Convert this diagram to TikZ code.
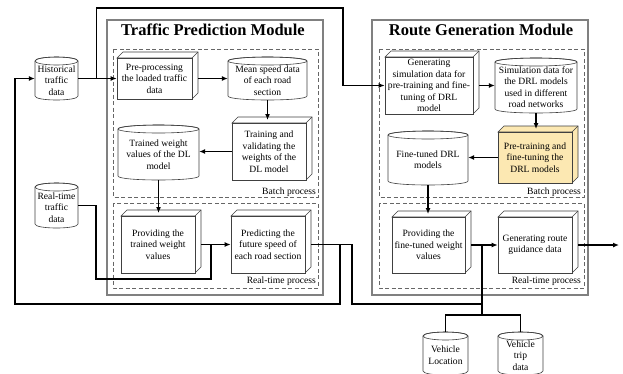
\documentclass[tikz,border=0pt]{standalone}
\usepackage{fontspec}
\setmainfont{Liberation Serif}
\usetikzlibrary{arrows.meta,calc}
\definecolor{ptyellow}{RGB}{252,232,178}
\tikzset{
 conn/.style={line width=1.4pt, draw=black},
 arr/.style={conn, -{Latex[length=6pt,width=5pt]}},
 boxline/.style={draw=black!75, line width=0.6pt},
 boxnode/.style={draw=black!75, line width=0.6pt, inner sep=0pt, align=center, font=\fontsize{9.6}{11.5}\selectfont},
 cylline/.style={draw=black!75, line width=0.6pt},
 cylnode/.style={inner sep=0pt, align=center, font=\fontsize{9.6}{11.5}\selectfont},
 modframe/.style={draw=black!50, line width=1.4pt},
 procframe/.style={draw=black!60, line width=0.8pt, dash pattern=on 4pt off 2.5pt},
 titletext/.style={font=\fontsize{16.5}{18}\selectfont\bfseries, inner sep=0pt},
 plabel/.style={font=\fontsize{9.6}{11.5}\selectfont, inner sep=0pt, anchor=base east},
}
\newcommand{\threedbox}[7][white]{%
  \pgfmathsetmacro{\bxX}{(#3+#5)/2}%
  \pgfmathsetmacro{\bxY}{(#4+#6)/2}%
  \pgfmathsetmacro{\bxW}{#5-#3}%
  \pgfmathsetmacro{\bxH}{#6-#4}%
  \filldraw[boxline, fill=#1] (#3,#4) -- (#3+6,#4-6) -- (#5+6,#4-6) -- (#5+6,#6-6) -- (#5,#6) -- (#5,#4) -- cycle;
  \draw[boxline] (#5,#4) -- (#5+6,#4-6);
  \node[boxnode, fill=#1, minimum width=\bxW pt, minimum height=\bxH pt] (#2) at (\bxX,\bxY) {#7};
  \coordinate (#2-r) at (#5+6,\bxY);
  \coordinate (#2-t) at (\bxX,#4-3);
}
\newcommand{\drawcyl}[6]{%
  \pgfmathsetmacro{\cylX}{(#2+#4)/2}%
  \pgfmathsetmacro{\cylY}{(#3+#5)/2}%
  \pgfmathsetmacro{\cylRX}{(#4-#2)/2}%
  \pgfmathsetmacro{\cylW}{#4-#2}%
  \pgfmathsetmacro{\cylH}{#5-#3}%
  \filldraw[cylline, fill=white] (#2,#3+4) -- (#2,#5-4) .. controls (#2,#5+1.33) and (#4,#5+1.33) .. (#4,#5-4) -- (#4,#3+4) .. controls (#4,#3-1.33) and (#2,#3-1.33) .. (#2,#3+4);
  \draw[cylline] (\cylX,#3+4) ellipse [x radius=\cylRX pt, y radius=4pt];
  \node[inner sep=0pt, minimum width=\cylW pt, minimum height=\cylH pt] (#1) at (\cylX,\cylY) {};
  \node[cylnode] (#1-txt) at (\cylX,\cylY+1.8) {#6};
}
\begin{document}
\begin{tikzpicture}[x=1pt,y=-1pt]
\useasboundingbox (0,0) rectangle (623,373);
\clip (0,0) rectangle (623,373);
% module frames
\draw[modframe] (107,20) rectangle (323,295);
\draw[modframe] (372,20) rectangle (588,295);
\node[titletext] (t1) at (213,30) {Traffic Prediction Module};
\node[titletext] (t2) at (481,30) {Route Generation Module};
% process frames
\draw[procframe] (113,49) rectangle (318,197);
\draw[procframe] (113,203) rectangle (318,288);
\draw[procframe] (379,49) rectangle (584,197);
\draw[procframe] (379,203) rectangle (584,288);
\node[plabel] (lb1) at (316,194.5) {Batch process};
\node[plabel] (lb2) at (316,283.5) {Real-time process};
\node[plabel] (lb3) at (581,194.5) {Batch process};
\node[plabel] (lb4) at (581,283.5) {Real-time process};
% inputs
\drawcyl{hist}{35}{57}{78}{100}{Historical\\traffic\\data}
\drawcyl{rt}{35}{183}{78}{228}{Real-time\\traffic\\data}
% traffic prediction module
\threedbox{pre}{117}{58}{192}{99}{Pre-processing\\the loaded traffic\\data}
\drawcyl{mean}{228}{57}{307}{100}{Mean speed data\\of each road\\section}
\threedbox{train}{232}{123}{306}{180}{Training and\\validating the\\weights of the\\DL model}
\drawcyl{tw}{118}{125}{199}{180}{Trained weight\\values of the DL\\model}
\threedbox{prov1}{121}{216}{195}{273}{Providing the\\trained weight\\values}
\threedbox{pred}{231}{216}{305}{273}{Predicting the\\future speed of\\each road section}
% route generation module
\threedbox{gen}{385}{57}{473}{114}{Generating\\simulation data for\\pre-training and fine-\\tuning of DRL\\model}
\drawcyl{sim}{495}{58}{577}{113}{Simulation data for\\the DRL models\\used in different\\road networks}
\threedbox[ptyellow]{pt}{498}{132}{572}{183}{Pre-training and\\fine-tuning the\\DRL models}
\drawcyl{ft}{388}{131}{468}{185}{Fine-tuned DRL\\models}
\threedbox{prov2}{392}{217}{465}{273}{Providing the\\fine-tuned weight\\values}
\threedbox{gen2}{498}{217}{572}{273}{Generating route\\guidance data}
% vehicle data
\drawcyl{vl}{423}{332}{468}{375}{Vehicle\\Location}
\drawcyl{vt}{498}{332}{543}{375}{Vehicle\\trip\\data}
% helper coordinates
\coordinate (jA) at ($(hist.east)+(18,0)$);
\coordinate (cTop) at (343,8);
\coordinate (cRT) at (96,279);
\coordinate (jB) at (211,244.5);
\coordinate (cF1) at (340,304);
\coordinate (cF2) at (15,304);
\coordinate (cG1) at (352,304);
\coordinate (jC) at (482,245);
\coordinate (jD) at (482,315);
\coordinate (cOut) at (619,245);
% connectors
\draw[arr] (hist.east) -- (hist.east -| pre.west);
\draw[arr] (jA) |- (cTop) |- (gen.west);
\draw[arr] (pre-r) -- (pre-r -| mean.west);
\draw[arr] (mean.south) -- (mean.south |- train-t);
\draw[arr] (train.west) -- (train.west -| tw.east);
\draw[arr] (tw.south) -- (tw.south |- prov1-t);
\draw[arr] (prov1-r) -- (prov1-r -| pred.west);
\draw[conn] (rt.east) -| (cRT) -| (jB);
\draw[arr] (pred-r) -| (cF1) -- (cF2) |- (hist.west);
\draw[conn] (pred-r) -| (cG1) -| (jC);
\draw[arr] (gen-r) -- (gen-r -| sim.west);
\draw[arr] (sim.south) -- (sim.south |- pt-t);
\draw[arr] (pt.west) -- (pt.west -| ft.east);
\draw[arr] (ft.south) -- (ft.south |- prov2-t);
\draw[arr] (prov2-r) -- (prov2-r -| gen2.west);
\draw[conn] (vl.north) |- (jD);
\draw[conn] (vt.north) |- (jD);
\draw[conn] (jD) -- (jC);
\draw[arr] (gen2-r) -- (gen2-r -| cOut);
\end{tikzpicture}
\end{document}
